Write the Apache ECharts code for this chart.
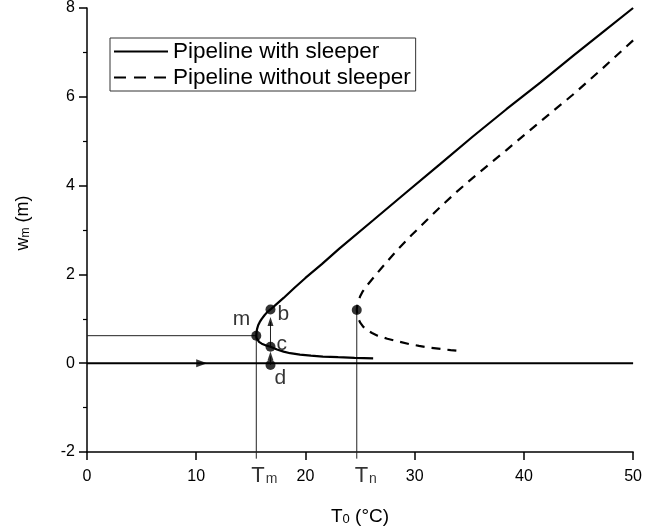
<!DOCTYPE html>
<html>
<head>
<meta charset="utf-8">
<script src="https://cdn.jsdelivr.net/npm/echarts@6/dist/echarts.min.js"></script>
<style>html,body{margin:0;padding:0;background:#fff}#c{width:645px;height:531px}</style>
</head>
<body>
<div id="c"></div>
<script>
// ---- data ----
const withSleeperLower = [
  [26.2,0.11],[24.5,0.12],[23.0,0.135],[21.6,0.15],[20.5,0.17],[19.5,0.195],[18.6,0.225],
  [18.0,0.26],[17.4,0.31],[16.8,0.37],[16.4,0.40],[16.0,0.44],[15.75,0.48],[15.6,0.52],
  [15.52,0.57],[15.5,0.62]
];
const withSleeperUpper = [
  [15.52,0.70],[15.58,0.78],[15.68,0.86],[15.82,0.93],[16.0,1.0],[16.25,1.08],[16.5,1.15],
  [16.8,1.21],[17.3,1.32],[18.0,1.47],[19.0,1.70],[20.0,1.92],[21.5,2.23],[23.1,2.58],
  [26.2,3.22],[29.0,3.80],[32.3,4.48],[35.3,5.10],[38.4,5.72],[41.5,6.32],[44.5,6.92],
  [47.2,7.45],[50.0,8.0]
];
const withoutSleeperUpper = [
  [50.0,7.27],[47.2,6.64],[44.45,6.04],[41.4,5.42],[38.4,4.80],[35.3,4.17],[33.8,3.85],
  [32.4,3.53],[31.1,3.22],[29.7,2.88],[28.3,2.52],[26.95,2.14],[26.2,1.92],[25.6,1.74],
  [25.25,1.62],[25.0,1.50],[24.85,1.40],[24.75,1.30],[24.7,1.20]
];
const withoutSleeperLower = [
  [24.75,1.10],[24.85,1.0],[25.0,0.92],[25.3,0.82],[25.7,0.74],[26.1,0.68],[26.6,0.62],
  [27.5,0.55],[28.5,0.49],[29.5,0.43],[30.4,0.39],[31.4,0.35],[32.4,0.32],[33.3,0.295],
  [34.3,0.27]
];
const pointNames = ['m','b','c','d'];
const pointValues = [[15.5,0.62],[16.8,1.21],[16.8,0.37],[16.8,-0.04]];
const tnPoint = [24.7,1.20];
const Tm = 15.5, Tn = 24.7, yMin = -2, yMax = 8, xMin = 0, xMax = 50;
const guideBottom = -2.15;
const zeroLine = [[0,0],[50,0]];
const zeroArrow = [10.5,0];
const upArrowLines = [[[16.8,-0.04],[16.8,0.15]],[[16.8,0.37],[16.8,0.93]]];
const upArrowHeads = [[16.8,0.16],[16.8,0.94]];
const xTicks = [0,10,20,30,40,50];
const yTicks = [-2,0,2,4,6,8];

const FONT = 'Liberation Sans, Arial, sans-serif';
const chart = echarts.init(document.getElementById('c'));

const guideStyle = {color:'#222', width:1};
const labelOffsets = [[4,-16],[-3,5],[-4,-3],[-6,13]];
const series = [
  {name:'Pipeline with sleeper', type:'line', data:withSleeperLower.concat(withSleeperUpper), symbol:'none',
   lineStyle:{color:'#000', width:2.2}, itemStyle:{color:'#000'}, z:5},
  {name:'Pipeline without sleeper', type:'line', data:withoutSleeperUpper.concat(withoutSleeperLower), symbol:'none',
   lineStyle:{color:'#000', width:2.2, type:[9,7]}, itemStyle:{color:'#000'}, z:5},
  {type:'line', data:[[xMin,pointValues[0][1]],[Tm,pointValues[0][1]],[Tm,guideBottom]], symbol:'none',
   lineStyle:guideStyle, silent:true, z:3, clip:false},
  {type:'line', data:[[Tn,guideBottom],tnPoint], symbol:'none', lineStyle:guideStyle, silent:true, z:3, clip:false},
  {type:'line', data:zeroLine, symbol:'none', lineStyle:{color:'#000', width:2}, silent:true, z:3},
  {type:'scatter', data:[zeroArrow], symbol:'triangle', symbolRotate:-90, symbolSize:[8,11],
   itemStyle:{color:'#000'}, silent:true, z:6},
  ...upArrowLines.map(d => ({type:'line', data:d, symbol:'none', lineStyle:guideStyle, silent:true, z:3})),
  {type:'scatter', data:upArrowHeads, symbol:'triangle', symbolSize:[6,9],
   itemStyle:{color:'#000'}, silent:true, z:6},
  {type:'scatter', symbolSize:10, itemStyle:{color:'#000'}, z:7,
   data: pointValues.map((v,i) => ({value:v, name:pointNames[i],
     label:{show:true, formatter:pointNames[i], fontFamily:FONT, fontSize:21, color:'#000',
       position: i===0 ? 'left' : 'right', offset: labelOffsets[i]}}))
  },
  {type:'scatter', symbolSize:10, itemStyle:{color:'#000'}, z:7, data:[tnPoint]},
  {type:'scatter', symbolSize:1, itemStyle:{color:'rgba(0,0,0,0)'}, silent:true,
   data:[
     {value:[Tm,yMin], label:{show:true, position:'bottom', distance:12, offset:[8,0],
       formatter:'{t|T}{s|m}', rich:{t:{fontSize:22,fontFamily:FONT,color:'#000'},s:{fontSize:14,fontFamily:FONT,color:'#000',verticalAlign:'bottom',padding:[6,0,0,1]}}}},
     {value:[Tn,yMin], label:{show:true, position:'bottom', distance:12, offset:[9,0],
       formatter:'{t|T}{s|n}', rich:{t:{fontSize:22,fontFamily:FONT,color:'#000'},s:{fontSize:14,fontFamily:FONT,color:'#000',verticalAlign:'bottom',padding:[6,0,0,1]}}}}
   ]}
];

chart.setOption({
  animation:false,
  backgroundColor:'#fff',
  grid:{left:87, right:11, top:8, bottom:79, containLabel:false},
  legend:{
    data:[
      {name:'Pipeline with sleeper'},
      {name:'Pipeline without sleeper', lineStyle:{type:[12,8]}}
    ],
    orient:'vertical', left:110, top:38, itemWidth:54, itemHeight:14, itemGap:3,
    padding:[2,5,2,3], borderColor:'#333', borderWidth:1, backgroundColor:'#fff',
    itemStyle:{opacity:0},
    textStyle:{fontFamily:FONT, fontSize:22.5, lineHeight:22, color:'#000'}
  },
  xAxis:{
    type:'value', min:xMin, max:xMax, interval:10,
    name:'{t|T}{s|0} (°C)', nameLocation:'middle', nameGap:55,
    nameTextStyle:{fontSize:19, fontFamily:FONT, color:'#000',
      rich:{t:{fontSize:19,fontFamily:FONT,color:'#000'},s:{fontSize:13,fontFamily:FONT,color:'#000',verticalAlign:'bottom',padding:[5,0,0,0]}}},
    axisLine:{show:true, onZero:false, lineStyle:{color:'#000', width:1.5}},
    axisTick:{show:true, inside:false, length:8, lineStyle:{color:'#000', width:1.5}},
    splitLine:{show:false},
    axisLabel:{fontFamily:FONT, fontSize:16, color:'#000', margin:17,
      formatter: v => xTicks.includes(v) ? String(v) : ''}
  },
  yAxis:{
    type:'value', min:yMin, max:yMax, interval:2,
    name:'{t|w}{s|m} (m)', nameLocation:'middle', nameGap:55, nameRotate:90,
    nameTextStyle:{fontSize:18, fontFamily:FONT, color:'#000', padding:[0,0,0,14],
      rich:{t:{fontSize:18,fontFamily:FONT,color:'#000'},s:{fontSize:12,fontFamily:FONT,color:'#000',verticalAlign:'bottom',padding:[5,0,0,0]}}},
    axisLine:{show:true, onZero:false, lineStyle:{color:'#000', width:1.5}},
    axisTick:{show:true, inside:false, length:8, lineStyle:{color:'#000', width:1.5}},
    minorTick:{show:true, splitNumber:2, length:4, lineStyle:{color:'#000', width:1.2}},
    splitLine:{show:false},
    axisLabel:{fontFamily:FONT, fontSize:16, color:'#000', margin:12,
      formatter: v => yTicks.includes(v) ? String(v) : ''}
  },
  series
});
</script>
</body>
</html>
